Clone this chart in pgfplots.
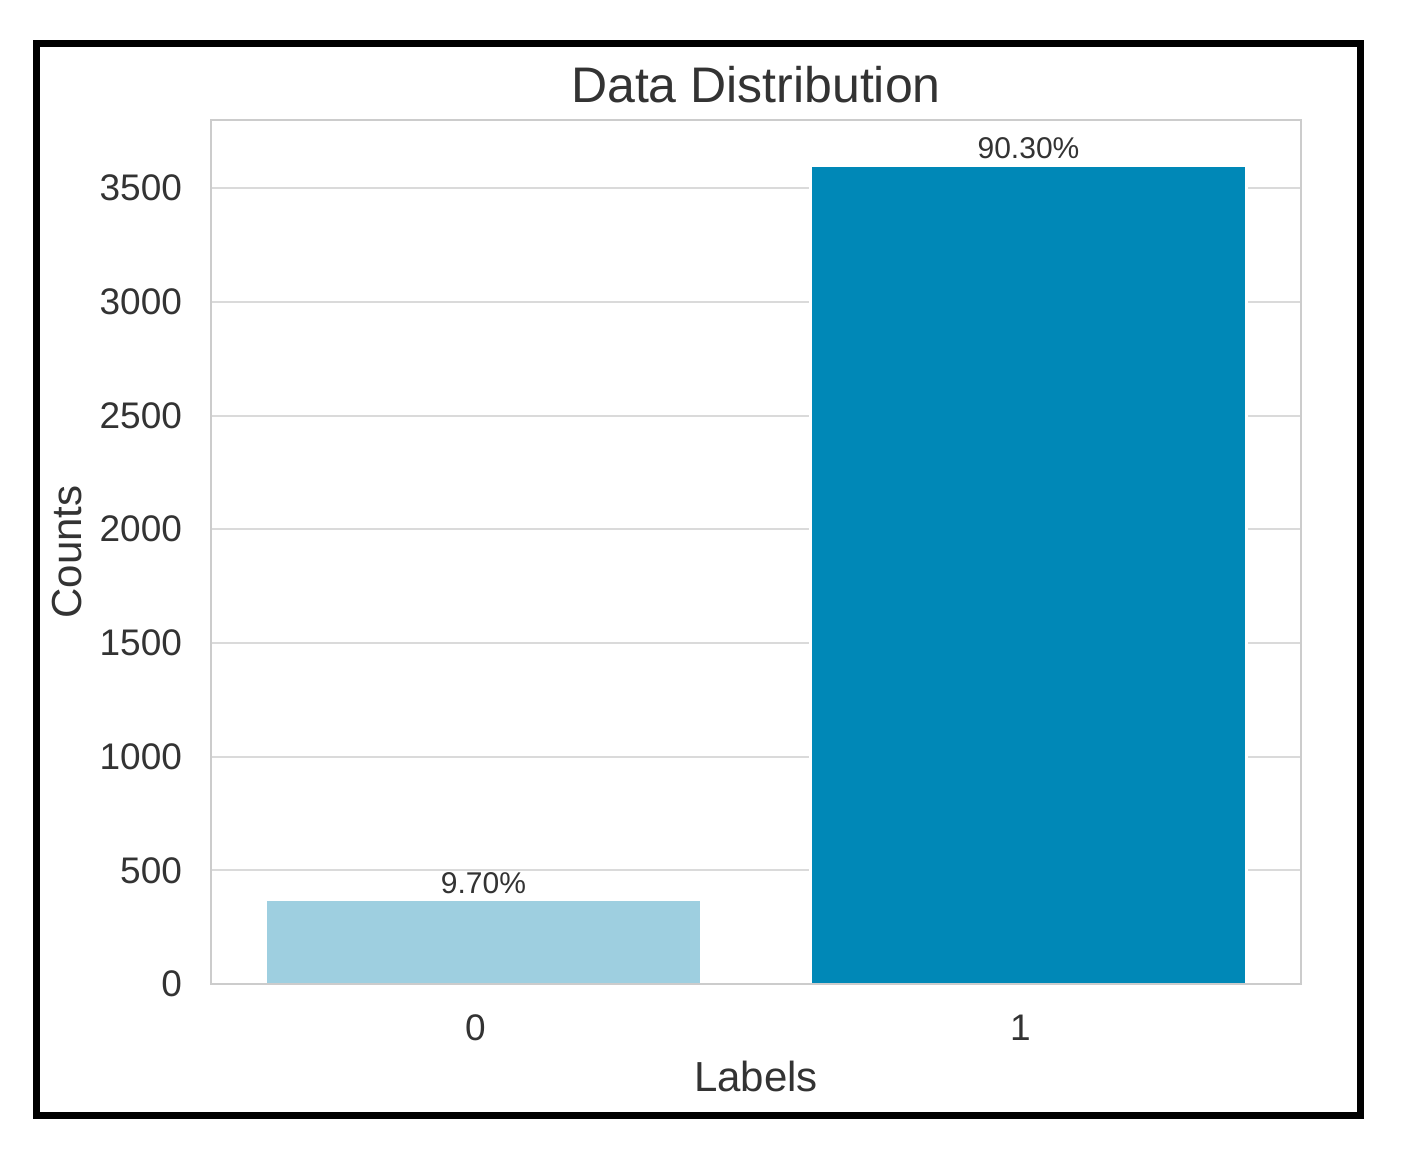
\documentclass[border=0pt]{standalone}
\usepackage{pgfplots}
\pgfplotsset{compat=1.18}
\usepackage{fontspec}
\setmainfont{Liberation Sans}
\definecolor{lightbar}{HTML}{9ECFE0}
\definecolor{darkbar}{HTML}{0088B7}
\definecolor{txt}{HTML}{333333}
\definecolor{gridc}{HTML}{DADADA}
\definecolor{framec}{HTML}{CCCCCC}
\begin{document}
\begin{tikzpicture}
\begin{axis}[
    scale only axis,
    width=545pt, height=432pt,
    xmin=-0.5, xmax=1.5,
    ymin=0, ymax=3800,
    xtick={0,1}, xticklabels={0,1},
    ytick={0,500,...,3500},
    major tick length=0pt,
    ymajorgrids,
    grid style={gridc, line width=1pt},
    axis line style={framec, line width=1.3pt},
    axis background/.style={fill=white},
    tick label style={font=\fontsize{18.5}{22}\selectfont, text=txt},
    /pgf/number format/assume math mode=true,
    /pgf/number format/set thousands separator={},
    xticklabel style={yshift=-12pt, xshift=-4pt},
    yticklabel style={xshift=-11pt},
    xlabel={Labels}, ylabel={Counts},
    label style={font=\fontsize{21}{25}\selectfont, text=txt},
    xlabel style={yshift=-3pt},
    ylabel style={yshift=2pt},
    title={Data Distribution},
    title style={font=\fontsize{25}{30}\selectfont, text=txt, yshift=-1pt},
    ybar, bar width=0.8, bar shift=0pt,
    nodes near coords,
    point meta=explicit symbolic,
    nodes near coords style={font=\fontsize{15}{18}\selectfont, text=txt, anchor=south, inner sep=2.5pt},
    clip=false,
]
\addplot[fill=lightbar, draw=white, line width=1.2pt] coordinates {(0,370) [9.70\%]};
\addplot[fill=darkbar, draw=white, line width=1.2pt] coordinates {(1,3600) [90.30\%]};
\draw[framec, line width=1.3pt] (rel axis cs:0,0) -- (rel axis cs:1,0);
\end{axis}
% page size and outer frame, relative to the axis box (1px = 0.5pt)
\path (-105.5pt,-86.5pt) rectangle (595.5pt,492pt);
\draw[black, line width=3.5pt] (-87pt,-65.5pt) rectangle (574.5pt,470pt);
\end{tikzpicture}
\end{document}
